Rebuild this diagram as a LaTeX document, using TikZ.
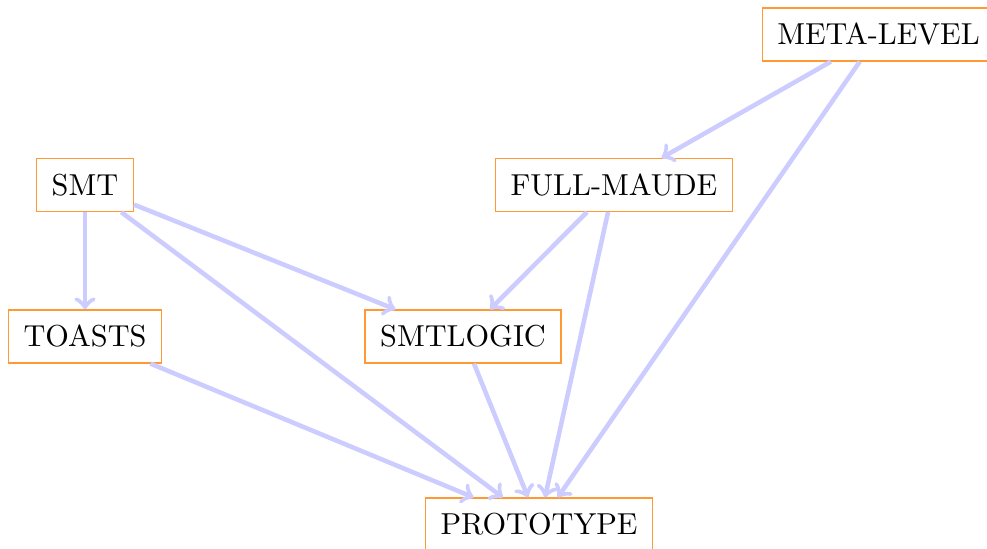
\documentclass[tikz,border=0pt]{standalone}
\definecolor{boxline}{RGB}{255,153,51}
\definecolor{edgeblue}{RGB}{204,204,255}
\tikzset{
  modbox/.style={draw=boxline, line width=0.4pt, rectangle,
    inner xsep=5pt, inner ysep=0pt, minimum height=17.5pt,
    text height=6.83pt, text depth=0pt},
  dep/.style={->, draw=edgeblue, line width=1.5pt}
}
\begin{document}
\begin{tikzpicture}[x=0.33pt, y=-0.33pt]
  \useasboundingbox (0,0) rectangle (987,549);
  \clip (0,0) rectangle (987,549);
  % module boxes
  \node[modbox] (meta)  at (878.5,34.5) {META-LEVEL};
  \node[modbox] (smt)   at (85,185)     {SMT};
  \node[modbox] (full)  at (614,185)    {FULL-MAUDE};
  \node[modbox] (toast) at (85,336.5)   {TOASTS};
  \node[modbox] (logic) at (463,336.5)  {SMTLOGIC};
  \node[modbox] (proto) at (539,524.5)  {PROTOTYPE};
  % dependencies
  \draw[dep] (meta)  -- (full);
  \draw[dep] (meta)  -- (proto);
  \draw[dep] (smt)   -- (toast);
  \draw[dep] (smt)   -- (logic);
  \draw[dep] (smt)   -- (proto);
  \draw[dep] (full)  -- (logic);
  \draw[dep] (full)  -- (proto);
  \draw[dep] (toast) -- (proto);
  \draw[dep] (logic) -- (proto);
\end{tikzpicture}
\end{document}
